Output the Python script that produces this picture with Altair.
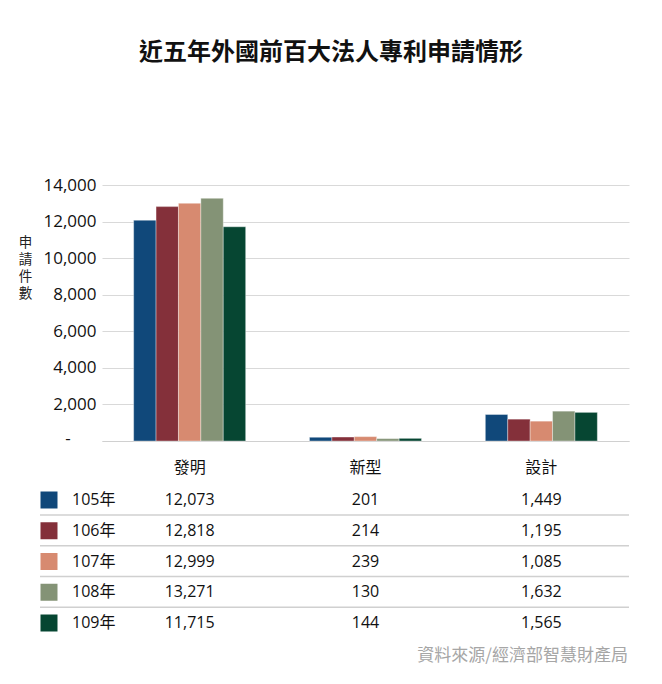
import altair as alt
import pandas as pd

# ---- data ----
years = ["105年", "106年", "107年", "108年", "109年"]
categories = ["發明", "新型", "設計"]
invention = [12073, 12818, 12999, 13271, 11715]
utility = [201, 214, 239, 130, 144]
design = [1449, 1195, 1085, 1632, 1565]
colors = ["#10487A", "#84303A", "#D78A70", "#849376", "#064632"]
y_ticks = [0, 2000, 4000, 6000, 8000, 10000, 12000, 14000]
title_text = "近五年外國前百大法人專利申請情形"
y_title = ["申", "請", "件", "數"]
source_text = "資料來源/經濟部智慧財產局"
zero_label = "-"

rows = []
for i, yr in enumerate(years):
    for cat, vals in zip(categories, [invention, utility, design]):
        rows.append({"year": yr, "category": cat, "value": vals[i]})
df = pd.DataFrame(rows)
years_df = pd.DataFrame({"year": years})
lines_df = pd.DataFrame({"year": years[:-1]})
source_df = pd.DataFrame({"t": [source_text]})
zero_df = pd.DataFrame({"value": [0], "t": [zero_label]})

FONT = "Open Sans, Noto Sans CJK TC"

x_scale = alt.Scale(domain=categories, paddingInner=0.363, paddingOuter=0.18)
x_axis = alt.Axis(title=None, labelFontSize=16, labelPadding=26, labelBaseline="middle",
                  ticks=False, tickSize=0, domainColor="#d0d0d0", domainWidth=1,
                  labelAngle=0, labelColor="#111111", grid=False, labelFont=FONT)
x_enc = alt.X("category:N", scale=x_scale, sort=categories, axis=x_axis)
color_enc = alt.Color("year:N", scale=alt.Scale(domain=years, range=colors), legend=None)
row_scale = alt.Scale(type="point", domain=years, range=[315, 438], padding=0)
row_enc = alt.Y("year:N", scale=row_scale, axis=None)
y_scale = alt.Scale(domain=[0, 14000], nice=False)
y_axis = alt.Axis(values=y_ticks,
                  labelExpr="datum.value == 0 ? '' : format(datum.value, ',')",
                  labelFontSize=17, labelPadding=6, labelColor="#111111", labelFont=FONT,
                  labelOverlap=False,
                  ticks=False, domain=False, gridColor="#d9d9d9", gridWidth=1,
                  title=y_title, titleAngle=0, titleX=-77, titleY=50,
                  titleAlign="center", titleBaseline="top", titleFontSize=13.5,
                  titleFontWeight="normal", titleLineHeight=17,
                  titleColor="#222222", titleFont="Noto Sans CJK TC")
y_enc = alt.Y("value:Q", scale=y_scale, axis=y_axis)

bars = alt.Chart(df).mark_bar(stroke="white", strokeWidth=0.6, strokeOpacity=0.6).encode(
    x=x_enc,
    xOffset=alt.XOffset("year:N", sort=years, scale=alt.Scale(domain=years, paddingInner=0, paddingOuter=0)),
    y=y_enc,
    color=color_enc,
)

zero_mark = alt.Chart(zero_df).mark_text(align="center", baseline="middle", fontSize=17,
                                         color="#111111", font=FONT, dy=-2).encode(
    x=alt.value(-34), y=y_enc, text="t:N"
)

plot = alt.layer(bars, zero_mark)

rules = alt.Chart(lines_df).mark_rule(color="#d0d0d0", strokeWidth=1.5, yOffset=15).encode(
    y=row_enc, x=alt.value(-62), x2=alt.value(527)
)

swatches = alt.Chart(years_df).mark_square(size=289, opacity=1).encode(
    x=alt.value(-53), y=row_enc, color=color_enc
)

labels = alt.Chart(years_df).mark_text(align="left", baseline="middle", fontSize=16,
                                       color="#111111", font=FONT).encode(
    x=alt.value(-30), y=row_enc, text="year:N"
)

values = alt.Chart(df).mark_text(baseline="middle", fontSize=16, color="#111111", font=FONT).encode(
    x=x_enc, y=row_enc, text=alt.Text("value:Q", format=",")
)

source = alt.Chart(source_df).mark_text(align="right", baseline="middle", fontSize=17,
                                        color="#a6a6a6", font="Noto Sans CJK TC").encode(
    x=alt.value(526), y=alt.value(471), text="t:N"
)

chart = alt.layer(plot, rules, swatches, labels, values, source).resolve_scale(
    y="independent"
).properties(
    width=527,
    height=256,
    autosize=alt.AutoSizeParams(type="none"),
    padding={"left": 94, "top": 177, "right": 25, "bottom": 230},
    title=alt.TitleParams(title_text, fontSize=24, fontWeight="bold", font="Noto Sans CJK TC",
                          anchor="middle", dx=-34.5, offset=99, baseline="middle", color="#111111"),
).configure(font=FONT, view=alt.ViewConfig(stroke=None))

chart.save("out.html", embed_options={"renderer": "svg", "actions": False})
